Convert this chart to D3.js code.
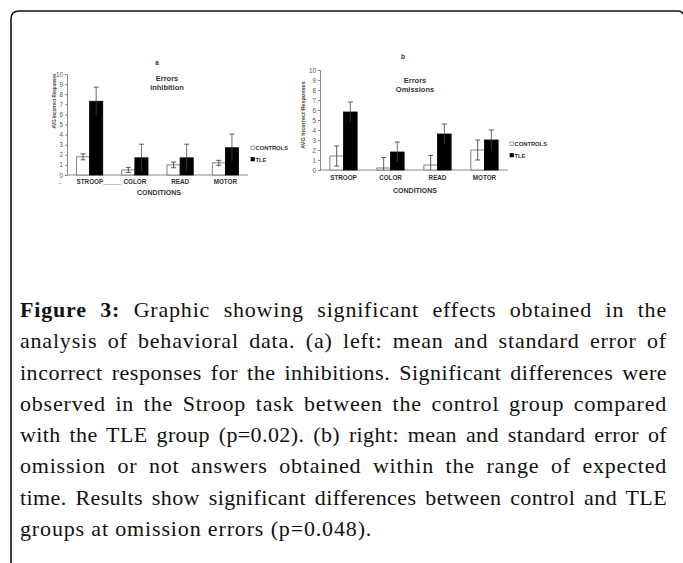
<!DOCTYPE html>
<html>
<head>
<meta charset="utf-8">
<script src="https://cdn.jsdelivr.net/npm/d3@7"></script>
<style>
  body { margin: 0; background: #fff; }
  #wrap { position: relative; width: 683px; height: 563px; overflow: hidden; }
  svg { position: absolute; left: 0; top: 0; }
  #caption {
    position: absolute; left: 20px; top: 294px; width: 647px;
    font-family: "Liberation Serif", "Times New Roman", serif;
    font-size: 22px; line-height: 31.3px; color: #111;
  }
  #caption div { text-align: justify; text-align-last: justify; white-space: nowrap; }
  #caption div.last { text-align-last: left; }
  #caption span.m { display: inline-block; }
</style>
</head>
<body>
<div id="wrap">
<svg id="fig" width="683" height="563"></svg>
<div id="caption"></div>
</div>
<script>
// ---- data ----
const conditions = ["STROOP", "COLOR", "READ", "MOTOR"];
const groups = ["CONTROLS", "TLE"];
const yTicks = d3.range(0, 11);

// panel a: errors inhibition
const inhibControls = [1.8, 0.5, 1.0, 1.2];
const inhibControlsErr = [0.3, 0.25, 0.28, 0.25];
const inhibTLE = [7.3, 1.7, 1.7, 2.7];
const inhibTLEErr = [1.4, 1.35, 1.35, 1.35];

// panel b: errors omissions
const omisControls = [1.4, 0.2, 0.5, 2.0];
const omisControlsErr = [1.0, 1.05, 0.95, 1.0];
const omisTLE = [5.8, 1.8, 3.6, 3.0];
const omisTLEErr = [1.0, 1.0, 1.0, 1.0];

const captionLines = [
  "<b>Figure 3:</b> Graphic showing significant effects obtained in the",
  "analysis of behavioral data. (a) left: mean and standard error of",
  "incorrect responses for the inhibitions. Significant differences were",
  "observed in the Stroop task between the control group compared",
  "with the TLE group (p=0.02). (b) right: mean and standard error of",
  "omission or not answers obtained within the range of expected",
  "time. Results show significant differences between control and TLE",
  "groups at omission errors (p=0.048)."
];

const svg = d3.select("#fig");
const sans = "'Liberation Sans', Arial, sans-serif";

// frame
svg.append("path")
  .attr("d", "M11,563 V19 Q11,11 19,11 H678 Q682,11 683,14")
  .attr("fill", "none").attr("stroke", "#111").attr("stroke-width", 1.6);

function panel(opts) {
  const { letter, title, xRange, yRange, ctl, ctlErr, tle, tleErr, legendX, legendY,
          yLabelX, yLabelY, yLabelSize, labelY, condY, condX, titleX, titleY, letterX, letterY, xLabels } = opts;
  const g = svg.append("g");

  const x = d3.scaleBand().domain(conditions).range(xRange).paddingInner(0.42).paddingOuter(0.21);
  const xs = d3.scaleBand().domain(groups).range([0, x.bandwidth()]);
  const y = d3.scaleLinear().domain([0, 10]).range(yRange);

  // y axis
  const ax = g.append("g")
    .attr("transform", `translate(${xRange[0]},0)`)
    .call(d3.axisLeft(y).tickValues(yTicks).tickSize(2).tickPadding(2));
  ax.select(".domain").attr("stroke", "#888");
  ax.selectAll(".tick line").attr("stroke", "#888");
  ax.selectAll(".tick text").attr("font-size", 6.3).attr("fill", "#555")
    .attr("font-family", sans);

  // baseline
  g.append("line")
    .attr("x1", xRange[0]).attr("x2", xRange[1])
    .attr("y1", y(0)).attr("y2", y(0))
    .attr("stroke", "#888").attr("stroke-width", 1);

  const rows = conditions.map((c, i) => ({ c, vals: [
    { s: "CONTROLS", v: ctl[i], e: ctlErr[i] },
    { s: "TLE", v: tle[i], e: tleErr[i] }
  ] }));

  const grp = g.selectAll("g.grp").data(rows).join("g")
    .attr("class", "grp")
    .attr("transform", d => `translate(${x(d.c)},0)`);

  grp.selectAll("rect").data(d => d.vals).join("rect")
    .attr("x", d => xs(d.s))
    .attr("width", xs.bandwidth())
    .attr("y", d => y(d.v))
    .attr("height", d => y(0) - y(d.v))
    .attr("fill", d => d.s === "TLE" ? "#000" : "#fff")
    .attr("stroke", d => d.s === "TLE" ? "#000" : "#666")
    .attr("stroke-width", 0.8);

  // error bars
  const eb = grp.selectAll("g.err").data(d => d.vals).join("g")
    .attr("class", "err")
    .attr("transform", d => `translate(${xs(d.s) + xs.bandwidth() / 2},0)`);
  eb.append("line")
    .attr("y1", d => y(Math.max(0, d.v - d.e))).attr("y2", d => y(d.v + d.e))
    .attr("stroke", d => d.s === "TLE" ? "#444" : "#333").attr("stroke-width", 0.8);
  eb.append("line")
    .attr("x1", -2.5).attr("x2", 2.5)
    .attr("y1", d => y(d.v + d.e)).attr("y2", d => y(d.v + d.e))
    .attr("stroke", "#333").attr("stroke-width", 0.8);
  eb.filter(d => d.s === "CONTROLS" && d.v - d.e > 0).append("line")
    .attr("x1", -2.5).attr("x2", 2.5)
    .attr("y1", d => y(d.v - d.e)).attr("y2", d => y(d.v - d.e))
    .attr("stroke", "#333").attr("stroke-width", 0.8);

  // category labels
  g.selectAll("text.cat").data(conditions).join("text")
    .attr("class", "cat")
    .attr("x", (d, i) => x(d) + x.bandwidth() / 2 + (xLabels[i] !== d ? 9 : 0))
    .attr("y", labelY)
    .attr("text-anchor", "middle")
    .attr("font-family", sans).attr("font-size", 6.3).attr("font-weight", "bold").attr("fill", "#333")
    .text((d, i) => xLabels[i]);

  g.append("text")
    .attr("x", condX).attr("y", condY).attr("text-anchor", "middle")
    .attr("font-family", sans).attr("font-size", 7).attr("font-weight", "bold").attr("fill", "#333")
    .text("CONDITIONS");

  // title
  g.append("text")
    .attr("x", titleX).attr("y", titleY).attr("text-anchor", "middle")
    .attr("font-family", sans).attr("font-size", 7.5).attr("font-weight", "bold").attr("fill", "#333")
    .selectAll("tspan").data(title).join("tspan")
    .attr("x", titleX).attr("dy", (d, i) => i ? 9 : 0).text(d => d);

  g.append("text")
    .attr("x", letterX).attr("y", letterY).attr("text-anchor", "middle")
    .attr("font-family", sans).attr("font-size", 6.5).attr("font-weight", "bold").attr("fill", "#333")
    .text(letter);

  // y label
  g.append("text")
    .attr("transform", `translate(${yLabelX},${yLabelY}) rotate(-90)`)
    .attr("text-anchor", "middle")
    .attr("font-family", sans).attr("font-size", yLabelSize).attr("font-weight", "bold").attr("fill", "#444")
    .text("AVG Incorrect Responses");

  // legend
  const lg = g.selectAll("g.lg").data(groups).join("g")
    .attr("class", "lg")
    .attr("transform", (d, i) => `translate(${legendX},${legendY + i * 11.5})`);
  lg.append("rect")
    .attr("x", 0).attr("y", -4).attr("width", 3.5).attr("height", 3.5)
    .attr("fill", d => d === "TLE" ? "#000" : "#fff")
    .attr("stroke", d => d === "TLE" ? "#000" : "#666").attr("stroke-width", 0.6);
  lg.append("text")
    .attr("x", 4.5).attr("y", 0)
    .attr("font-family", sans).attr("font-size", 5.8).attr("font-weight", "bold").attr("fill", "#333")
    .text(d => d);

  return g;
}

panel({
  letter: "a", letterX: 157, letterY: 65,
  title: ["Errors", "inhibition"], titleX: 167, titleY: 81,
  xRange: [67, 248], yRange: [175, 74],
  ctl: inhibControls, ctlErr: inhibControlsErr, tle: inhibTLE, tleErr: inhibTLEErr,
  legendX: 251, legendY: 150,
  yLabelX: 56, yLabelY: 101, yLabelSize: 4.5,
  labelY: 184, condX: 159, condY: 195,
  xLabels: ["STROOP_____", "COLOR", "READ", "MOTOR"]
});
svg.append("text").attr("x", 60).attr("y", 185).attr("text-anchor", "middle")
  .attr("font-family", sans).attr("font-size", 6).attr("fill", "#777").text("–");

panel({
  letter: "b", letterX: 403, letterY: 59,
  title: ["Errors", "Omissions"], titleX: 415, titleY: 83,
  xRange: [320, 508], yRange: [170, 70],
  ctl: omisControls, ctlErr: omisControlsErr, tle: omisTLE, tleErr: omisTLEErr,
  legendX: 510, legendY: 146,
  yLabelX: 305, yLabelY: 115, yLabelSize: 5.5,
  labelY: 180, condX: 415, condY: 193,
  xLabels: conditions
});

// caption: widen each line's letter spacing a little so justified gaps stay moderate
const capW = 647;
const lines = d3.select("#caption").selectAll("div").data(captionLines).join("div")
  .attr("class", (d, i) => i === captionLines.length - 1 ? "last" : null)
  .html(d => `<span class="m">${d}</span>`);
lines.each(function (d, i) {
  const span = this.querySelector("span.m");
  const w = span.getBoundingClientRect().width;
  const txt = span.textContent;
  const nChars = txt.length;
  const nSpaces = (txt.match(/ /g) || []).length;
  let ls;
  if (i === captionLines.length - 1) ls = 0.85;
  else ls = Math.max(0, Math.min(0.8, (capW - w - nSpaces * 3) / nChars));
  this.innerHTML = d;
  this.style.letterSpacing = ls + "px";
});
</script>
</body>
</html>
